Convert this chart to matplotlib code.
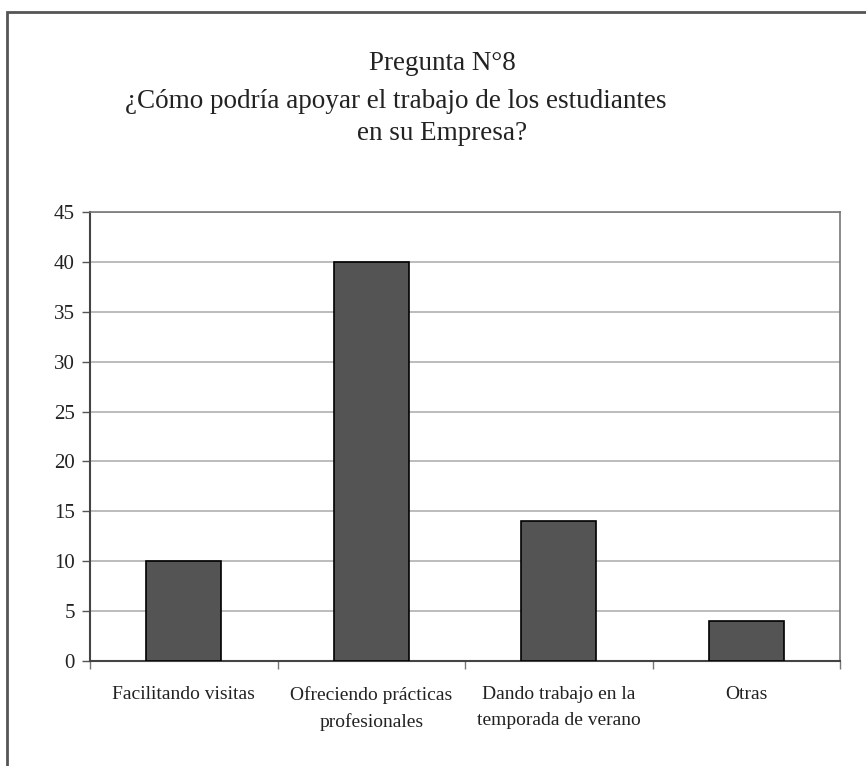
import numpy as np
import matplotlib
matplotlib.use('Agg')
import matplotlib.pyplot as plt
from matplotlib.patches import Rectangle

# data
categories = ['Facilitando visitas', 'Ofreciendo prácticas\nprofesionales',
              'Dando trabajo en la\ntemporada de verano', 'Otras']
values = [10, 40, 14, 4]
yticks = [0, 5, 10, 15, 20, 25, 30, 35, 40, 45]

plt.rcParams['font.family'] = ['Liberation Serif', 'DejaVu Serif']

fig = plt.figure(figsize=(8.66, 7.66), dpi=100)
ax = fig.add_axes([90/866, 1 - 661/766, 750/866, 449/766])

# outer frame (cut off at the right and bottom in the original)
fig.patches.append(Rectangle((7/866, -0.05), 1.2, 1 - 12/766 + 0.05,
                             transform=fig.transFigure, fill=False,
                             edgecolor='#555555', linewidth=2))

x = np.arange(len(categories))
ax.bar(x, values, width=0.4, color='#545454', edgecolor='black',
       linewidth=1.2, zorder=3)

ax.set_xlim(-0.5, len(categories) - 0.5)
ax.set_ylim(0, 45)
ax.set_yticks(yticks)
ax.yaxis.grid(True, color='#b0b0b0', linewidth=1.2, zorder=0)
ax.tick_params(axis='y', labelsize=15, length=6, width=1, color='#555555',
               pad=5, labelcolor='#222222')

ax.set_xticks(x)
ax.set_xticklabels(categories, fontsize=14, linespacing=1.7,
                   color='#222222')
ax.tick_params(axis='x', which='major', length=0, pad=18)
ax.set_xticks(np.arange(-0.5, len(categories), 1.0), minor=True)
ax.tick_params(axis='x', which='minor', length=6, width=1, color='#777777')

for side in ['left', 'bottom']:
    ax.spines[side].set_color('#444444')
    ax.spines[side].set_linewidth(1.5)
for side in ['top', 'right']:
    ax.spines[side].set_color('#777777')
    ax.spines[side].set_linewidth(1.2)

fig.text(442/866, 1 - 63/766, 'Pregunta N°8', fontsize=19.5,
         ha='center', va='center', color='#222222')
fig.text(396/866, 1 - 101/766,
         '¿Cómo podría apoyar el trabajo de los estudiantes', fontsize=19.5,
         ha='center', va='center', color='#222222')
fig.text(442/866, 1 - 134/766, 'en su Empresa?', fontsize=19.5,
         ha='center', va='center', color='#222222')

fig.savefig('out.png', dpi=100)
